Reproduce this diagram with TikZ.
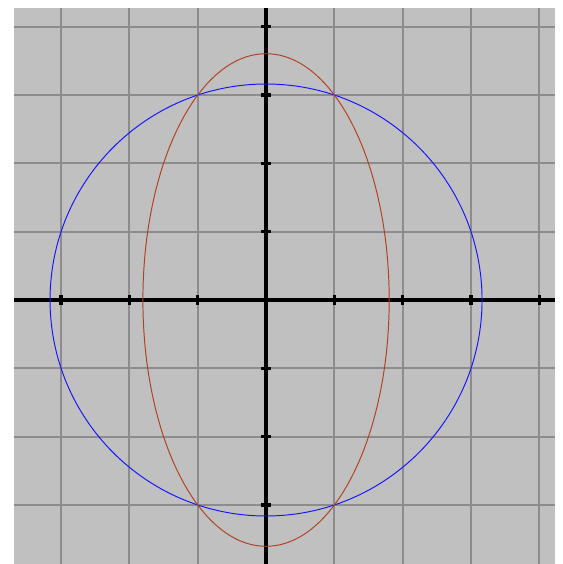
\documentclass[tikz,border=0pt]{standalone}
\definecolor{bggray}{RGB}{192,192,192}
\definecolor{gridgray}{RGB}{140,140,140}
\definecolor{ellbrown}{RGB}{176,64,32}
\definecolor{circblue}{RGB}{20,20,255}
\begin{document}
\begin{tikzpicture}[line join = round]
\useasboundingbox (-3.895,-3.865) rectangle (4.334,4.392);
\fill[bggray] (-3.69,-3.865) rectangle (4.23,4.275);
\foreach \x in {-3,...,4} \draw[gridgray,line width=0.8pt] (\x,-3.865)--(\x,4.275);
\foreach \y in {-3,...,4} \draw[gridgray,line width=0.8pt] (-3.69,\y)--(4.23,\y);
\draw[black,line width=1.4pt] (-3.69,0)--(4.23,0);
\draw[black,line width=1.4pt] (0,-3.865)--(0,4.275);
\foreach \x in {-3,-2,-1,1,2,3,4} \draw[line width=1.4pt] (\x,-0.07)--(\x,0.07);
\foreach \y in {-3,-2,-1,1,2,3,4} \draw[line width=1.4pt] (-0.07,\y)--(0.07,\y);
\draw[circblue,line width=0.4pt] (0,0) circle ({sqrt(10)});
\draw[ellbrown,line width=0.4pt] (0,0) ellipse ({sqrt(13)/2} and {sqrt(13)});
\end{tikzpicture}
\end{document}
